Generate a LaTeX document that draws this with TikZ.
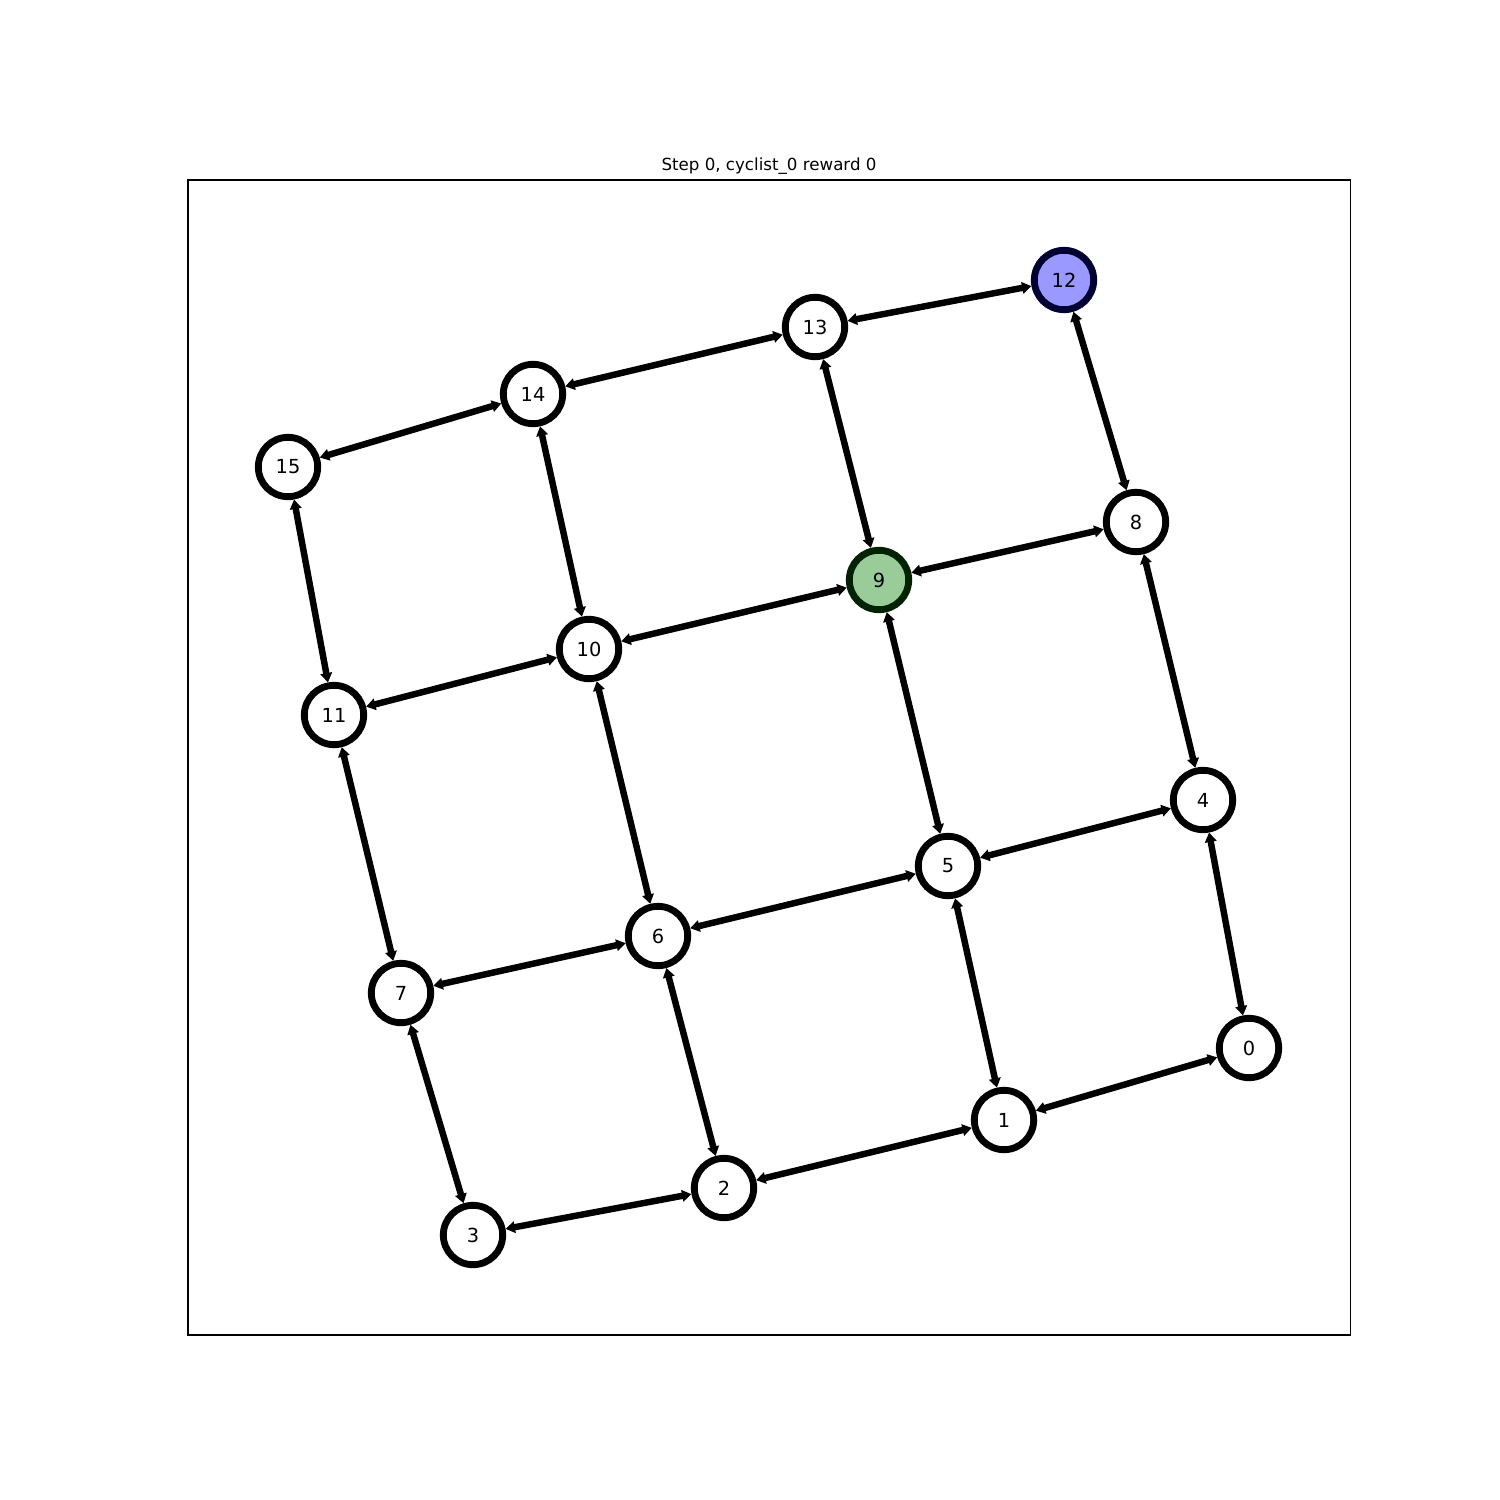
\documentclass[tikz,border=0pt]{standalone}
\usepackage{fontspec}
\setmainfont{DejaVu Sans}
\usetikzlibrary{arrows.meta}
\definecolor{bluefill}{HTML}{9999FF}
\definecolor{blueedge}{HTML}{000033}
\definecolor{greenfill}{HTML}{99CC99}
\definecolor{greenedge}{HTML}{002200}
\tikzset{
  gnode/.style={circle, draw=black, fill=white, line width=3.3pt, minimum size=28.5pt, inner sep=0pt, font=\fontsize{9.3}{11}\selectfont},
  gedge/.style={line width=3.1pt, {Triangle[length=4.5pt,width=5.5pt]}-{Triangle[length=4.5pt,width=5.5pt]}},
}
\begin{document}
\begin{tikzpicture}[x=0.48pt,y=-0.48pt]
\useasboundingbox (0,0) rectangle (1500,1500);
\fill[white] (0,0) rectangle (1500,1500);
\draw[line width=0.5pt] (188,180) rectangle (1350,1335);
\node[font=\fontsize{8}{10}\selectfont] (title) at (769,166) {Step 0, cyclist\_0 reward 0};
\node[gnode] (n0) at (1249,1048) {0};
\node[gnode] (n1) at (1004,1120) {1};
\node[gnode] (n2) at (724,1188) {2};
\node[gnode] (n3) at (473,1235) {3};
\node[gnode] (n4) at (1203,800) {4};
\node[gnode] (n5) at (948,866) {5};
\node[gnode] (n6) at (658,936) {6};
\node[gnode] (n7) at (401,993) {7};
\node[gnode] (n8) at (1136,522) {8};
\node[gnode, fill=greenfill, draw=greenedge] (n9) at (879,580) {9};
\node[gnode] (n10) at (589,649) {10};
\node[gnode] (n11) at (334,715) {11};
\node[gnode, fill=bluefill, draw=blueedge] (n12) at (1064,280) {12};
\node[gnode] (n13) at (815,327) {13};
\node[gnode] (n14) at (533,394) {14};
\node[gnode] (n15) at (288,467) {15};
\foreach \a/\b in {n0/n1,n1/n2,n2/n3,n4/n5,n5/n6,n6/n7,n8/n9,n9/n10,n10/n11,n12/n13,n13/n14,n14/n15,
  n0/n4,n4/n8,n8/n12,n1/n5,n5/n9,n9/n13,n2/n6,n6/n10,n10/n14,n3/n7,n7/n11,n11/n15}
  \draw[gedge] (\a) -- (\b);
\end{tikzpicture}
\end{document}
